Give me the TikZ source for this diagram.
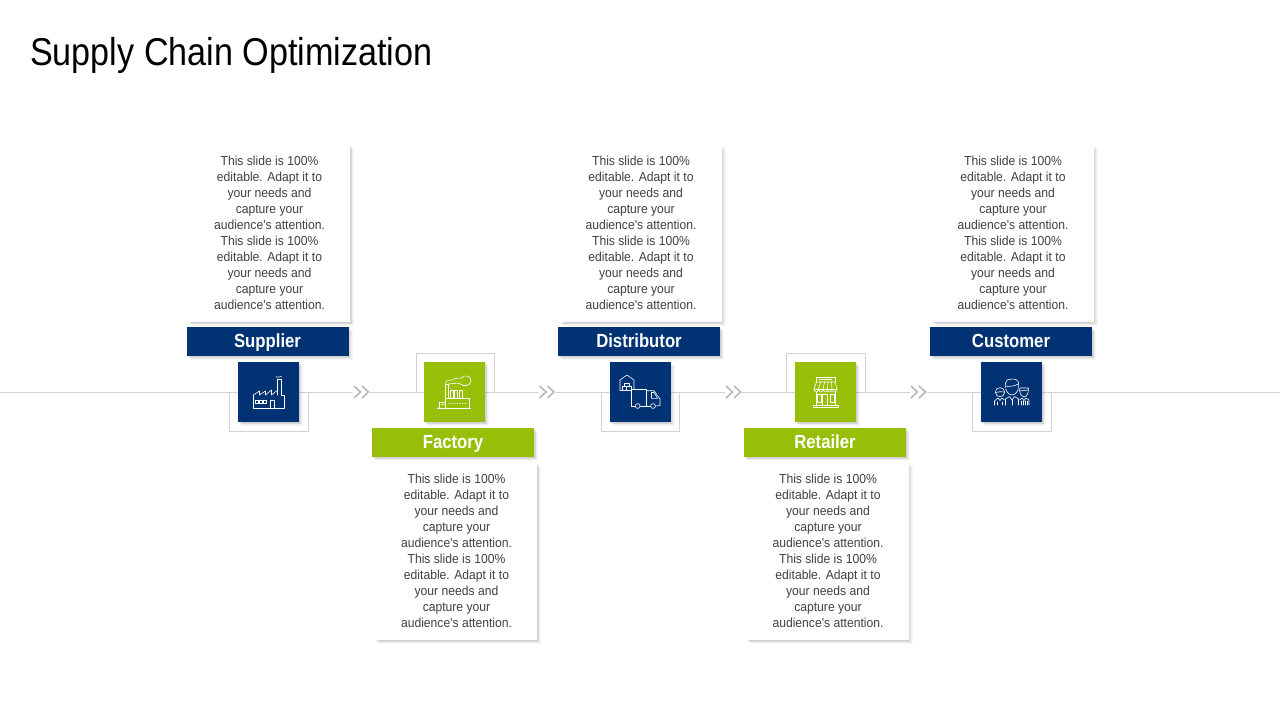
\documentclass[tikz,border=0pt]{standalone}
\usepackage{fontspec}
\usetikzlibrary{shadows}
\setmainfont{Liberation Sans}
\newfontfamily\narrowf[FakeStretch=0.88]{Liberation Sans}
\newfontfamily\bodyf[FakeStretch=0.93]{Liberation Sans}
\definecolor{navy}{HTML}{003274}
\definecolor{leaf}{HTML}{98BF07}
\definecolor{rulegray}{HTML}{D2D2D2}
\definecolor{bodygray}{HTML}{404040}
\newcommand{\cardtxt}{This slide is 100\%\\editable. Adapt it to\\your needs and\\capture your\\audience's attention.\\This slide is 100\%\\editable. Adapt it to\\your needs and\\capture your\\audience's attention.}
\tikzset{
  softshadow/.style={
    general shadow={fill=black,opacity=.045,shadow xshift=.8pt,shadow yshift=-.8pt},
    general shadow={fill=black,opacity=.045,shadow xshift=1.6pt,shadow yshift=-1.6pt},
    general shadow={fill=black,opacity=.04,shadow xshift=2.4pt,shadow yshift=-2.4pt},
    general shadow={fill=black,opacity=.035,shadow xshift=3.2pt,shadow yshift=-3.2pt},
    general shadow={fill=black,opacity=.03,shadow xshift=4pt,shadow yshift=-4pt}},
  card/.style={softshadow,fill=white,minimum width=162pt,minimum height=177pt,inner sep=0pt},
  cardtext/.style={inner sep=0pt,align=center,yshift=.6pt,xshift=.5pt,
    text=bodygray,font=\bodyf\fontsize{13.05}{16}\selectfont},
  labelbox/.style={softshadow,minimum width=162pt,minimum height=29pt,inner sep=0pt,text=white,
    text height=14pt,text depth=2pt,font=\narrowf\bfseries\fontsize{19}{22}\selectfont},
  iconbox/.style={softshadow,minimum width=61pt,minimum height=60pt,inner sep=0pt},
  rulel/.style={draw=rulegray,line width=1pt},
  gap/.style={minimum width=17pt,minimum height=14pt,inner sep=0pt},
  chev/.style={draw=black!28,line width=1.6pt},
  ico/.style={draw=white,line width=.6pt,line join=round,line cap=round},
}
\begin{document}
\begin{tikzpicture}[x=1pt,y=-1pt]
\path[use as bounding box,fill=white] (0,0) rectangle (1280,720);
\node[anchor=west,inner sep=0pt,font=\narrowf\fontsize{38.8}{44}\selectfont] (title) at (30,55) {Supply Chain Optimization};

% rule through the picture, broken at the chevrons
\coordinate (ruleL) at (0,392);
\coordinate (ruleR) at (1280,392);
\node[gap] (c1) at (361.5,392) {};
\node[gap] (c2) at (547,392) {};
\node[gap] (c3) at (733.5,392) {};
\node[gap] (c4) at (918.5,392) {};
\draw[rulel] (ruleL) -- (c1);
\draw[rulel] (c1) -- (c2);
\draw[rulel] (c2) -- (c3);
\draw[rulel] (c3) -- (c4);
\draw[rulel] (c4) -- (ruleR);
\foreach \n in {c1,c2,c3,c4}{
  \draw[chev] ([shift={(-7.5,-6)}]\n.center) -- ([shift={(-1,0)}]\n.center) -- ([shift={(-7.5,6)}]\n.center);
  \draw[chev] ([shift={(0.5,-6)}]\n.center) -- ([shift={(7,0)}]\n.center) -- ([shift={(0.5,6)}]\n.center);
}

% open frames behind the icons
\draw[rulel] (229,392) -- (229,431.5) -- (308.5,431.5) -- (308.5,392);
\draw[rulel] (416,392) -- (416,353) -- (494.5,353) -- (494.5,392);
\draw[rulel] (601,392) -- (601,431.5) -- (679.5,431.5) -- (679.5,392);
\draw[rulel] (786,392) -- (786,353) -- (865.5,353) -- (865.5,392);
\draw[rulel] (972,392) -- (972,431.5) -- (1051.5,431.5) -- (1051.5,392);

% cards
\node[card] (card1) at (269,233.5) {};
\node[card] (card2) at (456,551.5) {};
\node[card] (card3) at (640.5,233.5) {};
\node[card] (card4) at (827.5,551.5) {};
\node[card] (card5) at (1012.5,233.5) {};
\node[cardtext] (txt1) at (card1.center) {\cardtxt};
\node[cardtext] (txt2) at (card2.center) {\cardtxt};
\node[cardtext] (txt3) at (card3.center) {\cardtxt};
\node[cardtext] (txt4) at (card4.center) {\cardtxt};
\node[cardtext] (txt5) at (card5.center) {\cardtxt};

% labels
\node[labelbox,fill=navy] (lab1) at (267.5,341.5) {Supplier};
\node[labelbox,fill=leaf] (lab2) at (453,442.5) {Factory};
\node[labelbox,fill=navy] (lab3) at (639,341.5) {Distributor};
\node[labelbox,fill=leaf] (lab4) at (825,442.5) {Retailer};
\node[labelbox,fill=navy] (lab5) at (1011,341.5) {Customer};

% icon squares
\node[iconbox,fill=navy] (ic1) at (268.5,392) {};
\node[iconbox,fill=leaf] (ic2) at (454.5,392) {};
\node[iconbox,fill=navy] (ic3) at (640,392) {};
\node[iconbox,fill=leaf] (ic4) at (825.5,392) {};
\node[iconbox,fill=navy] (ic5) at (1011.5,392) {};

% supplier: factory with sawtooth roof
\begin{scope}[shift={(ic1.center)},ico]
\draw (-15,3) -- (-15,16) -- (15.5,16) -- (15.5,3) -- (12.5,3) -- (12.5,-12.5) -- (8.5,-12.5) -- (8.5,3);
\draw (-15,3) -- (-9,-1) -- (-9,3) -- (-3,-1) -- (-3,3) -- (3,-2) -- (3,3) -- (8.5,-1.5);
\draw (7.5,-15) .. controls (9,-16) and (10,-14) .. (11,-15) .. controls (12,-16) and (13,-15) .. (13.5,-15);
\draw (-13,8.5) rectangle (-10,11.5) (-9,8.5) rectangle (-6,11.5) (-5,8.5) rectangle (-2,11.5);
\draw (2,16) -- (2,8) -- (6,8) -- (6,16);
\end{scope}

% factory: plant with smoke
\begin{scope}[shift={(ic2.center)},ico]
\draw (-17,16.3) -- (16,16.3);
\draw (-15,16.3) -- (-15,10) -- (-9.5,10);
\draw (-9.5,16.3) -- (-9.5,6.3) -- (14.5,6.3) -- (14.5,16.3);
\draw (-9.5,6.3) -- (-9.5,-8) -- (-6,-8) -- (-6,6.3);
\draw (-4.5,6.3) -- (-4.5,-1.5) -- (-1.5,-1.5) -- (-1.5,6.3);
\draw (0,6.3) -- (0,-1.5) -- (3,-1.5) -- (3,6.3);
\draw (4.5,6.3) -- (4.5,-1.5) -- (7.5,-1.5) -- (7.5,6.3);
\draw (-9.5,-8) .. controls (-9,-13) and (-3,-11) .. (-1,-12.5) .. controls (2,-15) and (5,-13) .. (7,-14)
  .. controls (10,-18) and (17,-16) .. (16.5,-11) .. controls (16,-6) and (9,-5) .. (6,-8)
  .. controls (3,-10) and (-3,-8) .. (-6,-8);
\draw[dotted] (-5,11) -- (12,11);
\draw (-13,12) -- (-11,12);
\end{scope}

% distributor: warehouse and truck
\begin{scope}[shift={(ic3.center)},ico]
\draw (-20,-2) -- (-20,-12) -- (-13,-17) -- (-6,-12) -- (-6,-3);
\draw (-20,-2) -- (-8.7,-2);
\draw (-15.5,-9) rectangle (-11,-5.5) (-17.5,-5.5) rectangle (-13.3,-2) (-13.3,-5.5) rectangle (-9,-2);
\draw (-5,14) -- (-8.7,14) -- (-8.7,-3) -- (6.7,-3) -- (6.7,14) -- (0.5,14);
\draw (6.7,-1.3) -- (14,-1.3) -- (20,7) -- (20,13.5) -- (15.5,14);
\draw (10.5,14) -- (6.7,14);
\draw (11.5,0.5) -- (14,0.5) -- (17.5,6.3) -- (11.5,6.3) -- cycle;
\draw (-2.3,14) circle (2.4) (13,14) circle (2.4);
\end{scope}

% retailer: shop front
\begin{scope}[shift={(ic4.center)},ico]
\draw (-9,-10) -- (-9,-15) -- (9.5,-15) -- (9.5,-10);
\draw (-6,-12.5) -- (6.5,-12.5);
\draw (-9,-10) -- (9.5,-10) -- (11.5,-3);
\draw (-9,-10) -- (-11.5,-3);
\draw (-11.5,-3) .. controls (-11,1) and (-7.5,1) .. (-7,-3) .. controls (-6.5,1) and (-3,1) .. (-2.5,-3)
  .. controls (-2,1) and (2,1) .. (2,-3) .. controls (2.5,1) and (6,1) .. (6.5,-3) .. controls (7,1) and (11,1) .. (11.5,-3);
\draw (-11.5,-3) -- (11.5,-3);
\draw (-5,-10) -- (-7,-3) (-1,-10) -- (-2.5,-3) (2.5,-10) -- (2,-3) (6,-10) -- (6.5,-3);
\draw (-9.5,0) -- (-9.5,14) (9.5,0) -- (9.5,14);
\draw (-12,15.5) -- (13,15.5) -- (13,13) -- (-12,13) -- cycle;
\draw (-3,13) -- (-3,2) -- (2,2) -- (2,13);
\draw (4.5,2) rectangle (8.5,10);
\draw (-8.5,2) rectangle (-4.5,10);
\end{scope}

% customer: group of people
\begin{scope}[shift={(ic5.center)},ico]
% centre person
\draw (-6,-9) .. controls (-6,-12) and (-3,-13) .. (0,-13) .. controls (4,-13) and (7,-12) .. (7,-9)
  -- (6.5,-2) .. controls (5.5,1) and (3,3) .. (0.5,3) .. controls (-2,3) and (-4.5,1) .. (-5.5,-2) -- cycle;
\draw (-6,-6) .. controls (-2,-5) and (3,-6) .. (6.8,-8);
\draw (-6,13) -- (-6,7) -- (-2,4.5) -- (0.5,8) -- (3,4.5) -- (7,7) -- (7,13);
\draw (0.5,8) -- (0.5,13);
% left person
\draw (-16,0.5) .. controls (-16,-6) and (-7,-6) .. (-7,0.5) .. controls (-7,6) and (-16,6) .. (-16,0.5);
\draw (-16,0.5) .. controls (-13,0) and (-10,-1) .. (-7,0);
\draw (-17,13) -- (-17,9) .. controls (-16,7) and (-14.5,7) .. (-13.5,6) -- (-11.5,8.5) -- (-9.5,6) .. controls (-8.5,7) and (-7.5,7.5) .. (-7,8);
\draw (-14,13) -- (-14,10) (-9.5,13) -- (-9.5,10);
% right person
\draw (8,-2) -- (8.5,-4) -- (17,-4) -- (16.5,1) .. controls (15.5,4) and (13.5,5) .. (12.5,5) .. controls (11,5) and (8.5,3) .. (8,-2);
\draw (8,-1) .. controls (11,-1) and (14,-2) .. (16.8,-2);
\draw (8,8) -- (10.5,6) -- (12.5,8.5) -- (14.5,6) -- (17.5,8) -- (17.5,13);
\draw (10,9) -- (10,13) (12,9) -- (12,13) (14,9) -- (14,13) (16,9) -- (16,13);
\end{scope}
\end{tikzpicture}
\end{document}
